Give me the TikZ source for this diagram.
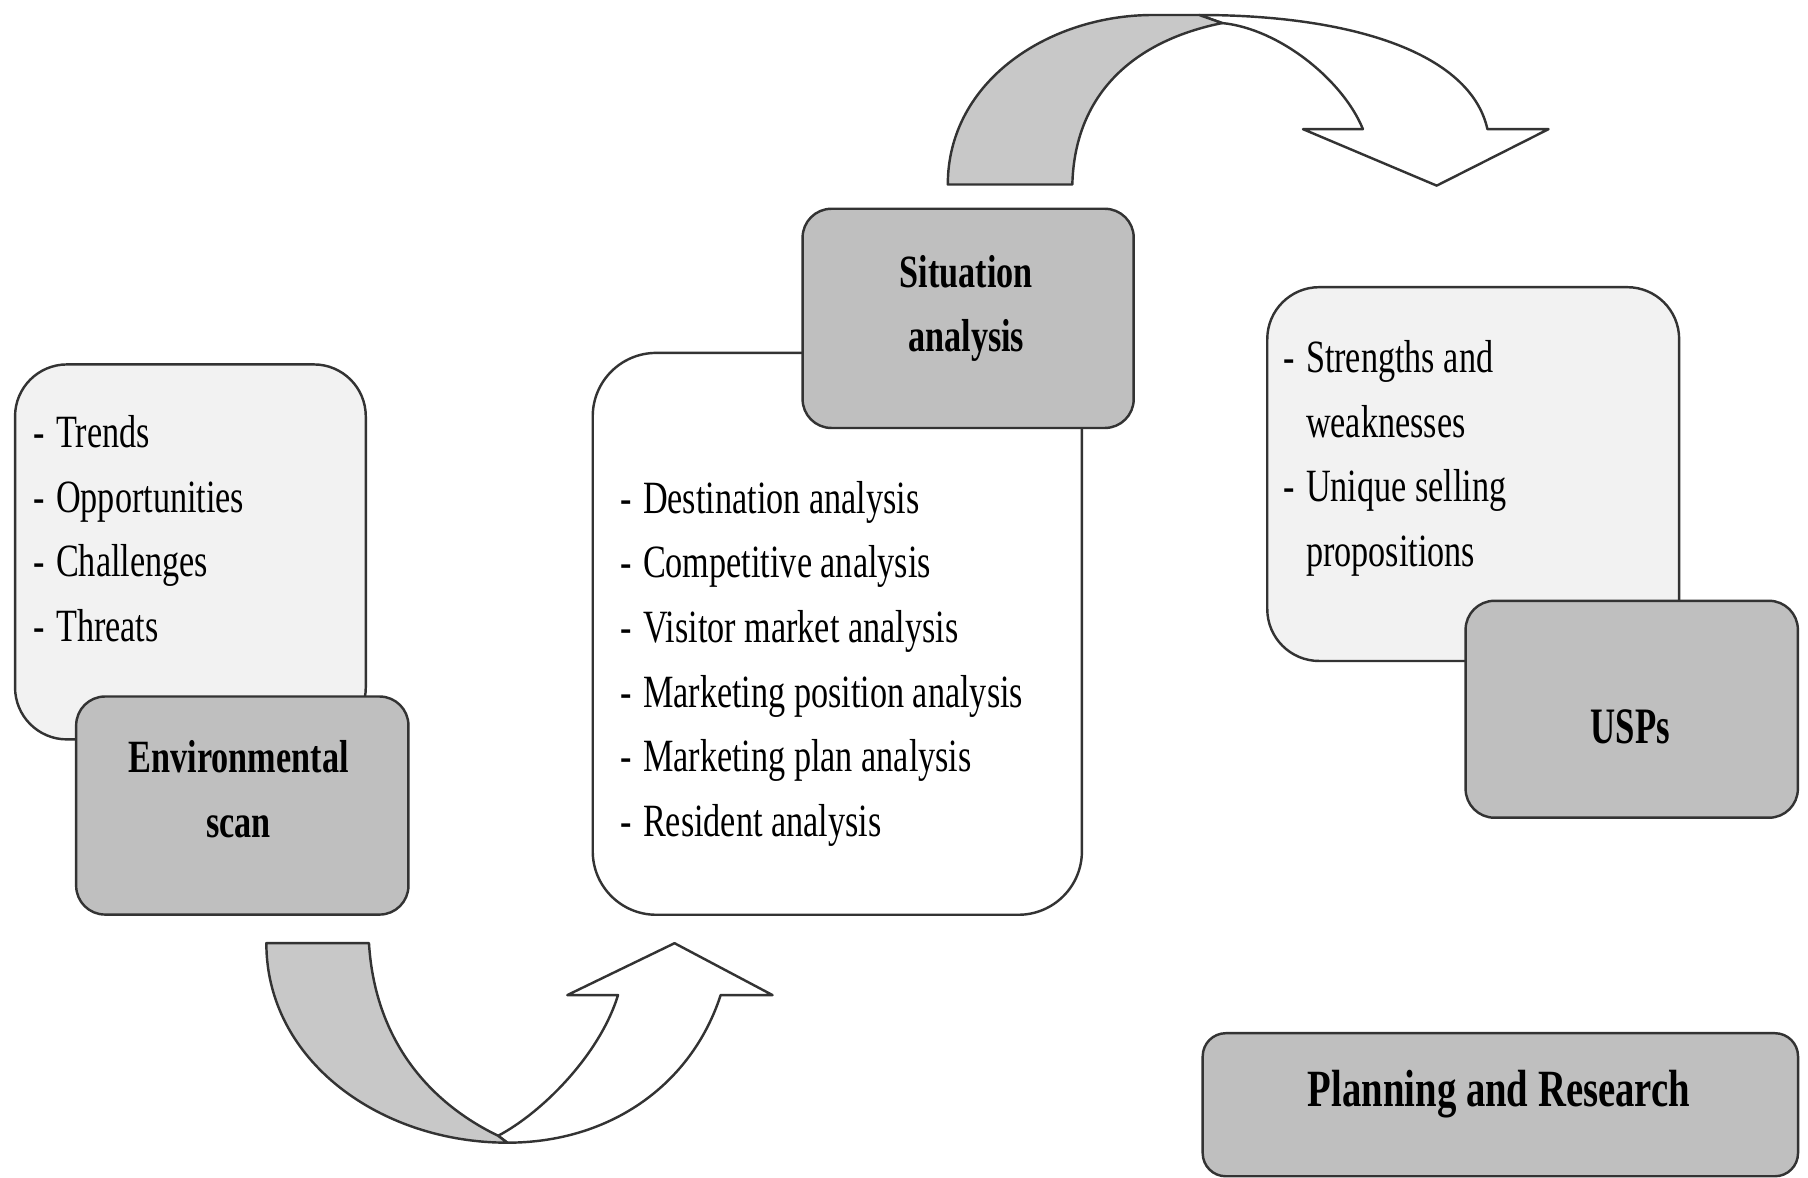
\documentclass[tikz,border=0pt]{standalone}
\usepackage{fontspec}
\setmainfont{Liberation Serif}[FakeStretch=0.74]
\newfontfamily\narrowfont{Liberation Serif}[FakeStretch=0.68]
\definecolor{boxdark}{HTML}{BFBFBF}
\definecolor{boxlight}{HTML}{F2F2F2}
\definecolor{bandgray}{HTML}{C8C8C8}
\definecolor{edge}{HTML}{333333}
\newcommand\listsize{\fontsize{11.4pt}{15.94pt}\selectfont}
\newcommand\headsize{\fontsize{11.4pt}{15.94pt}\selectfont\bfseries}
\newcommand\bigheadsize{\fontsize{12.9pt}{15.94pt}\selectfont\bfseries}
\newcommand\dashitem[1]{\makebox[0.2cm][l]{-}#1}
\newcommand\contitem[1]{\hspace*{0.2cm}#1}
\begin{document}
\begin{tikzpicture}[x=0.01cm,y=-0.01cm,
  panel/.style={draw=edge, line width=0.6pt, inner sep=0pt, anchor=north west},
  lightpanel/.style={panel, fill=boxlight, rounded corners=0.45cm},
  whitepanel/.style={panel, fill=white, rounded corners=0.55cm},
  darkpanel/.style={panel, fill=boxdark, rounded corners=0.25cm},
  listtext/.style={anchor=base west, inner sep=0pt, font=\listsize},
  headtext/.style={anchor=base, inner sep=0pt, font=\headsize},
  band/.style={draw=edge, line width=0.6pt, line join=round}]
\useasboundingbox (0,0) rectangle (1568,1021);

% environmental scan
\node[lightpanel, minimum width=3.04cm, minimum height=3.25cm] (envlist) at (12,315) {};
\node[listtext] (envitems) at (28,388) {\begin{tabular}[t]{@{}l@{}}
  \dashitem{Trends}\\ \dashitem{Opportunities}\\ \dashitem{Challenges}\\ \dashitem{Threats}\end{tabular}};
\node[darkpanel, minimum width=2.88cm, minimum height=1.89cm] (envbox) at (65,603) {};
\node[headtext] (envhead) at (207,670) {\begin{tabular}[t]{@{}c@{}}Environmental\\ scan\end{tabular}};

% situation analysis
\node[whitepanel, minimum width=4.24cm, minimum height=4.87cm] (sitlist) at (513,305) {};
\node[listtext] (situitems) at (537,445) {\begin{tabular}[t]{@{}l@{}}
  \dashitem{Destination analysis}\\ \dashitem{Competitive analysis}\\
  \dashitem{Visitor market analysis}\\ \dashitem{Marketing position analysis}\\
  \dashitem{Marketing plan analysis}\\ \dashitem{Resident analysis}\end{tabular}};
\node[darkpanel, minimum width=2.87cm, minimum height=1.90cm] (sitbox) at (695,180) {};
\node[headtext] (sithead) at (838,249) {\begin{tabular}[t]{@{}c@{}}Situation\\ analysis\end{tabular}};

% unique selling propositions
\node[lightpanel, minimum width=3.57cm, minimum height=3.24cm] (usplist) at (1098,248) {};
\node[listtext] (uspitems) at (1112,323) {\begin{tabular}[t]{@{}l@{}}
  \dashitem{Strengths and}\\ \contitem{weaknesses}\\
  \dashitem{Unique selling}\\ \contitem{propositions}\end{tabular}};
\node[darkpanel, minimum width=2.88cm, minimum height=1.88cm] (uspbox) at (1270,520) {};
\node[headtext, font=\narrowfont\fontsize{12.6pt}{15.94pt}\selectfont\bfseries] (usphead) at (1414,645) {USPs};

% title panel
\node[darkpanel, rounded corners=0.2cm, minimum width=5.16cm, minimum height=1.24cm] (planbox) at (1042,895) {};
\node[headtext, font=\bigheadsize] (planhead) at (1300,960) {Planning and Research};

% curved arrow from the scan to the situation analysis
\draw[band, fill=white] (432,985) .. controls (470,965) and (520,915) .. (536,863)
  -- (492,863) -- (585,818) -- (670,863) -- (625,863)
  .. controls (600,940) and (530,991) .. (440,991) -- cycle;
\draw[band, fill=bandgray] (231,818) -- (320,818)
  .. controls (325,900) and (370,955) .. (432,985) -- (440,991)
  .. controls (330,991) and (231,920) .. (231,818) -- cycle;

% curved arrow from the situation analysis to the USPs
\draw[band, fill=white] (1060,20) .. controls (1110,25) and (1165,70) .. (1182,112)
  -- (1130,112) -- (1246,161) -- (1343,112) -- (1290,112)
  .. controls (1275,45) and (1170,13) .. (1040,13) -- cycle;
\draw[band, fill=bandgray] (822,160) -- (930,160)
  .. controls (932,80) and (985,35) .. (1060,20) -- (1040,13) -- (1000,13)
  .. controls (910,13) and (822,70) .. (822,160) -- cycle;
\end{tikzpicture}
\end{document}
